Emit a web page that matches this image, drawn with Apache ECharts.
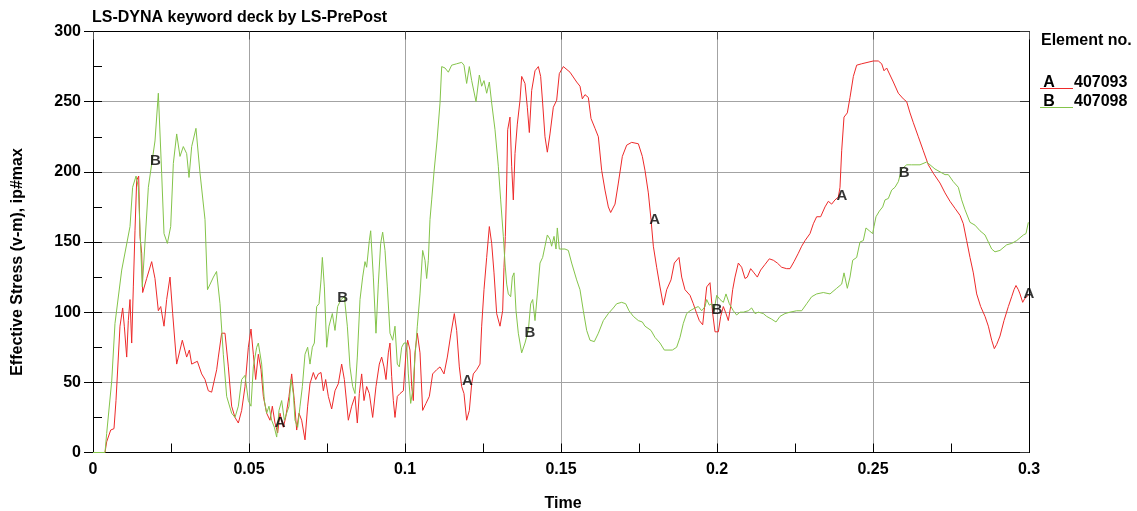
<!DOCTYPE html>
<html><head><meta charset="utf-8">
<script src="https://cdn.jsdelivr.net/npm/echarts/dist/echarts.min.js"></script>
<style>html,body{margin:0;padding:0;background:#fff}#c{width:1137px;height:511px}</style>
</head><body><div id="c"></div>
<script>
const title = 'LS-DYNA keyword deck by LS-PrePost';
const xName = 'Time';
const yName = 'Effective Stress (v-m), ip#max';
const legendTitle = 'Element no.';
const seriesLetters = ['A', 'B'];
const elementIds = ['407093', '407098'];
const xTickLabels = ['0', '0.05', '0.1', '0.15', '0.2', '0.25', '0.3'];

const tA = [0,0.00385,0.00438,0.00567,0.00673,0.00737,0.00865,0.00951,0.01004,0.0108,0.01132,0.01186,0.0124,0.01293,0.01346,0.014,0.01464,0.01506,0.0156,0.01592,0.0172,0.01881,0.01987,0.02094,0.0217,0.02276,0.02361,0.02468,0.02554,0.02682,0.02863,0.03002,0.03088,0.03163,0.03344,0.03483,0.0359,0.03696,0.03803,0.03964,0.04017,0.04124,0.04231,0.04338,0.04444,0.04551,0.04658,0.04765,0.04872,0.04979,0.05064,0.05139,0.05214,0.05299,0.05385,0.0546,0.05566,0.05673,0.05748,0.05833,0.05919,0.05994,0.061,0.06175,0.06282,0.06368,0.06453,0.06528,0.06603,0.06688,0.06795,0.0688,0.06955,0.07062,0.07137,0.07222,0.07308,0.07383,0.07457,0.07543,0.0765,0.07756,0.07863,0.0797,0.08056,0.08184,0.08291,0.08397,0.08472,0.08536,0.08611,0.08686,0.08771,0.08857,0.08964,0.0907,0.09177,0.09252,0.09327,0.09391,0.09466,0.09519,0.09573,0.09626,0.09679,0.09754,0.0984,0.09947,0.10032,0.10085,0.1016,0.10214,0.10267,0.1032,0.10395,0.10481,0.10566,0.10673,0.1078,0.10886,0.11015,0.11122,0.1125,0.11357,0.11474,0.11581,0.11656,0.11741,0.11816,0.11891,0.11976,0.12062,0.12137,0.1219,0.12297,0.12404,0.12457,0.12532,0.12618,0.12703,0.12778,0.12853,0.12938,0.13045,0.1313,0.13173,0.13216,0.13259,0.13291,0.13365,0.13419,0.13472,0.13526,0.136,0.13686,0.1374,0.13846,0.13921,0.13985,0.1406,0.14167,0.14274,0.14348,0.14412,0.14487,0.14562,0.14647,0.14754,0.14861,0.14946,0.15075,0.15288,0.15502,0.15609,0.15684,0.15769,0.15876,0.15962,0.1609,0.16197,0.16304,0.1641,0.16517,0.16592,0.16731,0.16838,0.16966,0.17105,0.17265,0.17479,0.17607,0.17692,0.17799,0.17885,0.1796,0.18066,0.18173,0.1828,0.18387,0.18526,0.18632,0.18782,0.18868,0.18974,0.19135,0.19241,0.19349,0.19434,0.19541,0.19605,0.1967,0.19776,0.19862,0.19936,0.20043,0.20118,0.20203,0.20288,0.20363,0.20438,0.20502,0.20577,0.20684,0.2079,0.20897,0.20972,0.21079,0.21186,0.21293,0.21399,0.21538,0.21677,0.21806,0.21934,0.22073,0.22233,0.2234,0.22468,0.22607,0.22714,0.22821,0.22981,0.23088,0.23194,0.23322,0.23462,0.23568,0.23675,0.23782,0.23889,0.23942,0.23996,0.24071,0.24177,0.24263,0.2437,0.24477,0.24637,0.2501,0.2517,0.25278,0.25353,0.25438,0.25545,0.25652,0.25812,0.25972,0.26079,0.26186,0.26293,0.26453,0.26613,0.26773,0.26933,0.27147,0.27308,0.27468,0.27628,0.27788,0.27895,0.28002,0.28109,0.28216,0.28323,0.28451,0.2859,0.28697,0.28804,0.28889,0.28964,0.29071,0.29199,0.29338,0.29445,0.2952,0.29583,0.29658,0.29712,0.29798,0.29872,0.29979];
const vA = [0,0,7.6,16,17,37,90,103,90,68,94,109,78,118,158,194,197,154,142,114,124,136,124,101,104,90,109,125,99,63,80,68,73,63,65,56,52,44,43,59,68,85,85,61,33,25,21,30,47,75,88,70,52,70,59,40,28,23,33,21,14,28,18,25,40,56,37,16,28,23,9,33,49,57,52,56,57,44,52,40,31,44,49,63,52,23,33,40,21,42,56,37,47,42,25,47,63,68,61,52,71,78,54,37,25,40,42,44,71,80,73,47,37,71,85,71,30,35,40,56,59,61,56,68,85,99,87,61,47,42,23,30,49,56,59,63,90,116,139,161,149,128,99,90,101,132,154,192,230,239,204,180,213,234,251,268,263,246,228,258,272,275,268,249,225,214,227,246,251,270,275,271,264,261,252,255,253,238,231,225,201,187,175,171,177,192,211,219,221,220,211,201,185,166,147,132,118,105,116,123,135,139,125,116,112,106,99,94,91,90,118,121,99,86,86,97,104,99,94,104,116,125,135,132,124,125,131,128,125,130,134,138,137,135,132,131,131,136,142,147,151,156,163,168,168,175,179,177,180,182,189,215,239,242,253,268,276,277,279,279,277,272,274,269,264,256,252,250,242,235,225,215,205,199,192,185,179,174,169,163,151,139,128,113,104,97,90,80,74,77,83,94,104,111,116,119,116,113,107,110,112];

const tB = [0,0.00385,0.00438,0.006,0.00705,0.0092,0.01186,0.0127,0.0138,0.01453,0.0158,0.01774,0.01987,0.02094,0.02201,0.02276,0.02383,0.0249,0.02575,0.02682,0.02788,0.02895,0.03002,0.03077,0.03163,0.033,0.0343,0.0359,0.0367,0.0386,0.0396,0.04071,0.04177,0.04284,0.04444,0.04551,0.04658,0.04765,0.04872,0.04925,0.04979,0.05064,0.05139,0.05246,0.05299,0.05406,0.05492,0.05566,0.05641,0.05726,0.05812,0.05887,0.05962,0.06047,0.06133,0.06207,0.06282,0.06346,0.06421,0.06474,0.0656,0.06635,0.0671,0.06795,0.0688,0.06955,0.0703,0.07094,0.07169,0.07244,0.07308,0.07351,0.07415,0.0749,0.07564,0.07671,0.07756,0.07842,0.07949,0.08056,0.08152,0.08237,0.08323,0.08397,0.08472,0.08558,0.08643,0.08718,0.08771,0.08857,0.089,0.08985,0.0907,0.09145,0.0922,0.09284,0.09359,0.09434,0.09519,0.09605,0.09679,0.09754,0.09818,0.09893,0.09968,0.10053,0.10107,0.10182,0.10246,0.1032,0.10395,0.10481,0.10566,0.10641,0.10694,0.10748,0.10801,0.10855,0.1093,0.11026,0.11122,0.11176,0.11282,0.11389,0.11496,0.11656,0.11816,0.11891,0.11976,0.12062,0.12137,0.12276,0.12383,0.12457,0.12532,0.12618,0.12703,0.12778,0.12885,0.12991,0.13066,0.13152,0.13205,0.13259,0.13312,0.13387,0.1344,0.13494,0.13558,0.13632,0.13739,0.13846,0.13953,0.14028,0.14092,0.14167,0.14242,0.14327,0.14412,0.14487,0.14562,0.14647,0.147,0.14776,0.1484,0.14882,0.14946,0.15128,0.15235,0.15342,0.15502,0.15609,0.15716,0.15823,0.15929,0.16068,0.16197,0.16357,0.16517,0.16677,0.16784,0.16944,0.17073,0.1718,0.17319,0.17479,0.17607,0.17692,0.17885,0.18013,0.18173,0.18312,0.18568,0.18707,0.18814,0.1892,0.19027,0.19135,0.19295,0.19402,0.19509,0.19615,0.1967,0.19754,0.19829,0.19904,0.1999,0.20096,0.20203,0.20288,0.20395,0.20523,0.2063,0.20737,0.20844,0.21004,0.21111,0.21218,0.21324,0.21484,0.21591,0.21752,0.21891,0.22019,0.22179,0.2234,0.22553,0.22714,0.22874,0.23034,0.23194,0.23408,0.23622,0.23835,0.23996,0.24071,0.24177,0.24263,0.24349,0.24477,0.24583,0.24689,0.24775,0.24882,0.24989,0.25032,0.25096,0.25203,0.2531,0.25385,0.25491,0.25598,0.25705,0.25812,0.25919,0.26079,0.26239,0.26506,0.2672,0.26827,0.26987,0.27147,0.27308,0.27414,0.27574,0.27734,0.27842,0.27949,0.28109,0.28269,0.28429,0.2859,0.28697,0.28804,0.2891,0.29071,0.29285,0.29445,0.29605,0.29819,0.29904,0.29979];
const vB = [0,0,13.5,51,92,130,161,189,197,189,118,189,222,256,199,156,149,161,206,227,211,218,213,196,218,231,199,166,116,125,129,106,70,40,28,25,33,52,55,54,37,33,61,75,78,63,37,28,33,23,18,11,30,37,23,28,33,52,42,23,18,33,47,70,75,63,75,78,104,106,123,139,118,75,90,99,87,104,109,111,90,61,47,42,68,109,125,136,132,151,158,125,85,120,149,157,144,118,85,80,90,63,61,75,78,78,56,35,44,68,90,113,144,137,124,137,166,180,200,222,249,275,274,271,276,277,278,276,263,275,265,250,269,261,265,256,264,249,230,204,180,154,135,120,113,111,125,128,101,85,71,78,87,106,109,94,113,135,139,147,155,152,147,154,145,160,145,145,144,135,123,116,101,87,80,79,85,94,99,103,106,107,106,101,97,94,93,90,87,82,78,73,73,75,82,92,99,101,103,104,101,104,109,105,106,101,112,109,107,113,106,101,98,100,100,101,103,99,100,99,97,95,93,97,99,100,101,101,106,111,113,114,113,117,120,128,117,125,137,139,150,151,160,158,156,161,168,172,175,180,181,187,189,193,202,205,205,205,207,205,202,200,198,198,193,189,180,173,164,162,158,155,150,145,143,144,148,149,151,155,156,164];

// curve identification letters as placed in the picture
const labelTA = [0.06, 0.12, 0.18, 0.24, 0.30];
const labelVA = [21, 51, 166, 183, 113];
const labelTB = [0.02, 0.08, 0.14, 0.20, 0.26];
const labelVB = [208, 110, 85, 102, 199];

const RED = '#ee2a2a';
const GREEN = '#84c44a';
const FONT = '"Liberation Sans", Arial, sans-serif';
const zip = (a, b) => a.map((x, i) => [x, b[i]]);

const chart = echarts.init(document.getElementById('c'), null, {renderer: 'canvas'});
const letterLabel = (txt) => ({
  show: true, position: 'inside', formatter: txt,
  color: '#000', fontWeight: 'bold', fontSize: 15, fontFamily: FONT
});

chart.setOption({
  animation: false,
  backgroundColor: '#fff',
  grid: {left: 93, top: 31.5, right: 108, bottom: 58.5, containLabel: false},
  xAxis: [
    {type: 'value', min: 0, max: 0.3, interval: 0.05, position: 'bottom',
     axisLine: {show: true, onZero: false, lineStyle: {color: '#000', width: 1}},
     axisTick: {show: false},
     axisLabel: {color: '#000', fontWeight: 'bold', fontSize: 16, fontFamily: FONT, margin: 9,
       formatter: v => xTickLabels[Math.round(v / 0.05)]},
     splitLine: {show: true, lineStyle: {color: '#a3a3a3', width: 1}}},
    {type: 'value', min: 0, max: 0.3, interval: 0.025, position: 'bottom',
     axisLine: {show: false}, axisLabel: {show: false}, splitLine: {show: false},
     axisTick: {show: true, inside: true, length: 9, lineStyle: {color: '#000'}}},
    {type: 'value', min: 0, max: 0.3, interval: 0.05, position: 'top',
     axisLine: {show: true, onZero: false, lineStyle: {color: '#000', width: 1}},
     axisLabel: {show: false}, splitLine: {show: false},
     axisTick: {show: true, inside: true, length: 8, lineStyle: {color: '#555'}}}
  ],
  yAxis: [
    {type: 'value', min: 0, max: 300, interval: 50, position: 'left',
     axisLine: {show: true, onZero: false, lineStyle: {color: '#000', width: 1}},
     axisTick: {show: true, inside: false, length: 9, lineStyle: {color: '#000'}},
     axisLabel: {color: '#000', fontWeight: 'bold', fontSize: 16, fontFamily: FONT, margin: 12},
     splitLine: {show: true, lineStyle: {color: '#a3a3a3', width: 1}}},
    {type: 'value', min: 0, max: 300, interval: 25, position: 'left',
     axisLine: {show: false}, axisLabel: {show: false}, splitLine: {show: false},
     axisTick: {show: true, inside: true, length: 9, lineStyle: {color: '#000'}}},
    {type: 'value', min: 0, max: 300, interval: 50, position: 'right',
     axisLine: {show: true, onZero: false, lineStyle: {color: '#000', width: 1}},
     axisLabel: {show: false}, splitLine: {show: false},
     axisTick: {show: true, inside: true, length: 9, lineStyle: {color: '#333'}}}
  ],
  series: [
    {type: 'line', name: seriesLetters[0], xAxisIndex: 0, yAxisIndex: 0, data: zip(tA, vA),
     symbol: 'none', showSymbol: false, lineStyle: {color: RED, width: 1}, itemStyle: {color: RED}, z: 3},
    {type: 'line', name: seriesLetters[1], xAxisIndex: 0, yAxisIndex: 0, data: zip(tB, vB),
     symbol: 'none', showSymbol: false, lineStyle: {color: GREEN, width: 1}, itemStyle: {color: GREEN}, z: 3},
    {type: 'scatter', xAxisIndex: 0, yAxisIndex: 0, data: zip(labelTA, labelVA), symbolSize: 1,
     itemStyle: {color: 'rgba(0,0,0,0)'}, label: letterLabel(seriesLetters[0]), z: 5, clip: false, silent: true},
    {type: 'scatter', xAxisIndex: 0, yAxisIndex: 0, data: zip(labelTB, labelVB), symbolSize: 1,
     itemStyle: {color: 'rgba(0,0,0,0)'}, label: letterLabel(seriesLetters[1]), z: 5, clip: false, silent: true}
  ],
  graphic: [
    {type: 'text', x: 92, y: 18, style: {text: title, font: 'bold 16px ' + FONT, fill: '#000',
      align: 'left', verticalAlign: 'middle', textAlign: 'left', textVerticalAlign: 'middle'}},
    {type: 'text', x: 18, y: 262, rotation: Math.PI / 2, style: {text: yName, font: 'bold 16px ' + FONT, fill: '#000',
      align: 'center', verticalAlign: 'middle', textAlign: 'center', textVerticalAlign: 'middle'}},
    {type: 'text', x: 563, y: 504, style: {text: xName, font: 'bold 16px ' + FONT, fill: '#000',
      align: 'center', verticalAlign: 'middle', textAlign: 'center', textVerticalAlign: 'middle'}},
    {type: 'text', x: 1041, y: 41, style: {text: legendTitle, font: 'bold 16px ' + FONT, fill: '#000',
      align: 'left', verticalAlign: 'middle', textAlign: 'left', textVerticalAlign: 'middle'}},
    {type: 'text', x: 1049, y: 82.5, style: {text: seriesLetters[0], font: 'bold 16px ' + FONT, fill: '#000',
      align: 'center', verticalAlign: 'middle', textAlign: 'center', textVerticalAlign: 'middle'}},
    {type: 'text', x: 1074, y: 82.5, style: {text: elementIds[0], font: 'bold 16px ' + FONT, fill: '#000',
      align: 'left', verticalAlign: 'middle', textAlign: 'left', textVerticalAlign: 'middle'}},
    {type: 'line', shape: {x1: 1040, y1: 88.5, x2: 1073, y2: 88.5}, style: {stroke: RED, lineWidth: 1}},
    {type: 'text', x: 1049, y: 101.5, style: {text: seriesLetters[1], font: 'bold 16px ' + FONT, fill: '#000',
      align: 'center', verticalAlign: 'middle', textAlign: 'center', textVerticalAlign: 'middle'}},
    {type: 'text', x: 1074, y: 101.5, style: {text: elementIds[1], font: 'bold 16px ' + FONT, fill: '#000',
      align: 'left', verticalAlign: 'middle', textAlign: 'left', textVerticalAlign: 'middle'}},
    {type: 'line', shape: {x1: 1040, y1: 107.5, x2: 1073, y2: 107.5}, style: {stroke: GREEN, lineWidth: 1}}
  ]
});
</script>
</body></html>
